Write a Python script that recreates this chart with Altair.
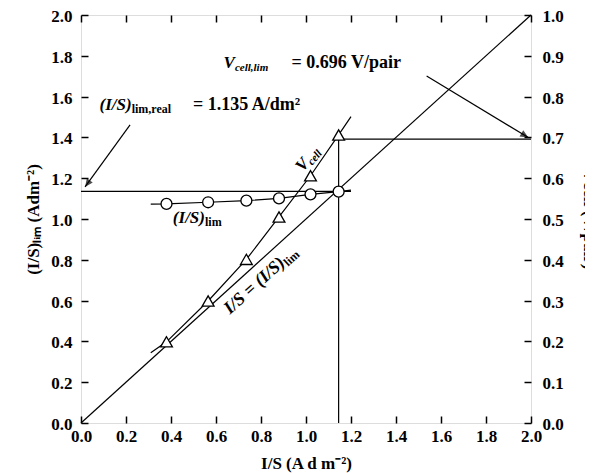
import altair as alt
import pandas as pd

SERIF = "Liberation Serif"

# ---- data ----
current_density = [0.38, 0.565, 0.735, 0.88, 1.02, 1.145]          # I/S (A dm-2)
is_lim_points = [1.074, 1.082, 1.090, 1.101, 1.121, 1.134]           # (I/S)lim (A dm-2)
v_cell_points = [0.199, 0.299, 0.401, 0.505, 0.606, 0.706]          # Vcell (V/pair)

# drawn curves through the points (incl. their short extensions)
islim_curve_x = [0.31, 0.38, 0.565, 0.735, 0.88, 1.02, 1.145, 1.20]
islim_curve_y = [1.073, 1.074, 1.082, 1.090, 1.101, 1.121, 1.134, 1.142]
vcell_curve_x = [0.31, 0.38, 0.565, 0.735, 0.88, 1.02, 1.145, 1.20]
vcell_curve_y = [0.172, 0.199, 0.299, 0.401, 0.505, 0.606, 0.706, 0.751]

is_lim_real = 1.135
is_at_lim = 1.145
v_cell_lim = 0.696

ticks_left = [0.0, 0.2, 0.4, 0.6, 0.8, 1.0, 1.2, 1.4, 1.6, 1.8, 2.0]
ticks_x = [0.0, 0.2, 0.4, 0.6, 0.8, 1.0, 1.2, 1.4, 1.6, 1.8, 2.0]
ticks_right = [0.0, 0.1, 0.2, 0.3, 0.4, 0.5, 0.6, 0.7, 0.8, 0.9, 1.0]

# guide segments in left-axis units (Vcell is plotted at twice its value on the left scale)
seg_x = [0.0, 0.0, is_at_lim, is_at_lim, 0.218, 1.536]
seg_y = [0.0, is_lim_real, 0.0, 2 * v_cell_lim, 1.461, 1.701]
seg_x2 = [2.0, 1.20, is_at_lim, 2.0, 0.018, 1.988]
seg_y2 = [2.0, is_lim_real, 2 * v_cell_lim, 2 * v_cell_lim, 1.157, 1.399]

# ---- tables ----
pts = pd.DataFrame({"x": current_density, "y": is_lim_points, "v": v_cell_points})
islim_curve = pd.DataFrame({"x": islim_curve_x, "y": islim_curve_y})
vcell_curve = pd.DataFrame({"x": vcell_curve_x, "v": vcell_curve_y})
segs = pd.DataFrame({"x": seg_x, "y": seg_y, "x2": seg_x2, "y2": seg_y2})

lab = dict(labelFont=SERIF, labelFontSize=17, labelFontWeight="bold", labelColor="black",
           labelFlush=False, labelOverlap=False)
tit = dict(titleFont=SERIF, titleFontSize=17, titleFontWeight="bold", titleColor="black")
tk = dict(offset=-7, tickSize=7, tickWidth=1.5, tickColor="black", domain=False, grid=False)

x_scale = alt.Scale(domain=[0, 2], nice=False, zero=False)
y_scale = alt.Scale(domain=[0, 2], nice=False, zero=False)
v_scale = alt.Scale(domain=[0, 1], nice=False, zero=False)

x_bottom = alt.X("x:Q", scale=x_scale,
                 axis=alt.Axis(orient="bottom", values=ticks_x, format=".1f", labelPadding=5,
                               title="I/S (A d m⁻²)", titlePadding=11, **lab, **tit, **tk))
x_top = alt.X("x:Q", scale=x_scale,
              axis=alt.Axis(orient="top", values=ticks_x, labels=False, title=None, **tk))
y_left = alt.Y("y:Q", scale=y_scale,
               axis=alt.Axis(orient="left", values=ticks_left, format=".1f", labelPadding=9,
                             labelOffset=1.5,
                             title="(I/S)ₗᵢₘ (Adm⁻²)", titlePadding=8, **lab, **tit, **tk))
y_right = alt.Y("v:Q", scale=v_scale,
                axis=alt.Axis(orient="right", values=ticks_right, format=".1f", labelPadding=11,
                              labelOffset=1.5,
                              title="Vcell (V/pair)", titlePadding=16, **lab, **tit, **tk))

rules = alt.Chart(segs).mark_rule(color="black", strokeWidth=1.2).encode(
    x=x_bottom, y=y_left, x2="x2:Q", y2="y2:Q")

arrow_shape = "M0,0 L0.45,1 L-0.45,1 Z"
heads = pd.DataFrame({"x": [seg_x2[4], seg_x2[5]], "y": [seg_y2[4], seg_y2[5]]})
head1 = alt.Chart(heads.iloc[[0]]).mark_point(shape=arrow_shape, filled=True, color="black",
                                             size=260, angle=216).encode(x=x_bottom, y=y_left)
head2 = alt.Chart(heads.iloc[[1]]).mark_point(shape=arrow_shape, filled=True, color="black",
                                             size=260, angle=121).encode(x=x_bottom, y=y_left)

islim_line = alt.Chart(islim_curve).mark_line(color="black", strokeWidth=1.2).encode(
    x=x_bottom, y=y_left)
islim_pts = alt.Chart(pts).mark_point(shape="circle", filled=True, fill="white", stroke="black",
                                      strokeWidth=1.3, size=120, opacity=1).encode(x=x_bottom, y=y_left)


def txt(t, x, y, size=17, italic=False, align="left", dy=0, angle=0):
    d = pd.DataFrame({"x": [x], "y": [y], "t": [t]})
    kw = dict(font=SERIF, fontSize=size, fontWeight="bold", align=align, baseline="alphabetic",
              color="black", dy=dy)
    if italic:
        kw["fontStyle"] = "italic"
    if angle:
        kw["angle"] = angle
    return alt.Chart(d).mark_text(**kw).encode(x=x_bottom, y=y_left, text="t:N")


texts = [
    txt("(I/S)", 0.225, 1.534, italic=True, align="right"),
    txt("lim,real", 0.225, 1.534, size=12, dy=3),
    txt("= 1.135 A/dm²", 0.498, 1.534, size=18),
    txt("V", 0.684, 1.740, italic=True, align="right"),
    txt("cell,lim", 0.684, 1.740, size=11, italic=True, dy=3),
    txt("= 0.696 V/pair", 0.936, 1.740, size=18),
    txt("(I/S)", 0.551, 0.98, italic=True, align="right"),
    txt("lim", 0.551, 0.98, size=12, dy=3),
    txt("V", 1.018, 1.270, italic=True, align="right", angle=310),
    txt("cell", 1.018, 1.270, size=11, italic=True, dy=3, angle=310),
    txt("I/S = (I/S)", 0.911, 0.777, size=18, italic=True, align="right", angle=318),
    txt("lim", 0.911, 0.777, size=12, dy=3, angle=318),
]

left_layer = alt.layer(rules, head1, head2, islim_line, islim_pts, *texts)

vcell_line = alt.Chart(vcell_curve).mark_line(color="black", strokeWidth=1.2).encode(
    x=x_top, y=y_right)
vcell_pts = alt.Chart(pts).mark_point(shape="triangle-up", filled=True, fill="white", stroke="black",
                                      strokeWidth=1.3, size=140, opacity=1).encode(x=x_top, y=y_right)
right_layer = alt.layer(vcell_line, vcell_pts)

chart = (
    alt.layer(left_layer, right_layer)
    .resolve_scale(y="independent")
    .resolve_axis(x="independent", y="independent")
    .properties(width=450, height=408, autosize=alt.AutoSizeParams(type="none"),
                padding={"left": 73, "top": 7, "right": 54, "bottom": 50})
    .configure_view(stroke="black", strokeWidth=1.6)
    .configure(background="white")
)

chart.save("out.html", embed_options={"renderer": "svg", "actions": False})
